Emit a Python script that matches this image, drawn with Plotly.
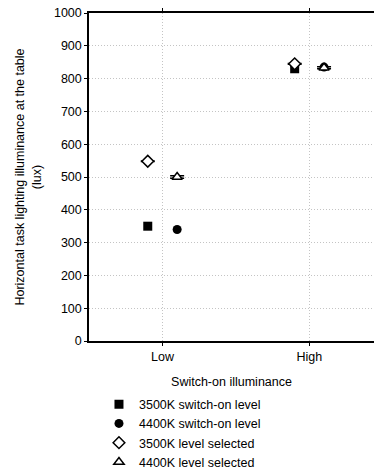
import plotly.graph_objects as go

categories = ["Low", "High"]
cat_pos = [0, 1]
offset = 0.1

sw_3500 = [350, 830]
sw_4400 = [340, 835]
sel_3500 = [548, 845]
sel_3500_err = [1, 1]
sel_4400 = [500, 833]
sel_4400_err = [4, 3]

y_ticks = list(range(0, 1001, 100))

xl = [p - offset for p in cat_pos]
xr = [p + offset for p in cat_pos]

fig = go.Figure()
fig.add_trace(go.Scatter(x=xl, y=sw_3500, mode="markers", name="3500K switch-on level",
                         marker=dict(symbol="square", size=9, color="black")))
fig.add_trace(go.Scatter(x=xr, y=sw_4400, mode="markers", name="4400K switch-on level",
                         marker=dict(symbol="circle", size=9, color="black")))
fig.add_trace(go.Scatter(x=xl, y=sel_3500, mode="markers", name="3500K level selected",
                         error_y=dict(type="data", array=sel_3500_err, color="black", thickness=1.5, width=7),
                         marker=dict(symbol="diamond", size=9, color="white", line=dict(color="black", width=1.5))))
fig.add_trace(go.Scatter(x=xr, y=sel_4400, mode="markers", name="4400K level selected",
                         error_y=dict(type="data", array=sel_4400_err, color="black", thickness=1.5, width=7),
                         marker=dict(symbol="triangle-up", size=9, color="white", line=dict(color="black", width=1.5))))

fig.update_layout(
    width=374, height=472,
    margin=dict(l=89, r=0, t=13, b=131, autoexpand=False),
    paper_bgcolor="white", plot_bgcolor="white",
    font=dict(family="Liberation Sans, Arial, sans-serif", size=12, color="black"),
    showlegend=True,
    legend=dict(orientation="v", x=0.035, xanchor="left", y=-0.148, yanchor="top",
                font=dict(size=12.5), tracegroupgap=0, itemwidth=30, bgcolor="rgba(0,0,0,0)"),
    xaxis=dict(range=[-0.5, 1.44], tickmode="array", tickvals=cat_pos, ticktext=categories,
               showgrid=True, gridcolor="#c4c4c4", griddash="1px,2px", gridwidth=1,
               showline=True, linecolor="black", linewidth=1.5, mirror="ticks",
               ticks="outside", ticklen=3, tickcolor="black", zeroline=False, automargin=False,
               title=dict(text="Switch-on illuminance", standoff=14, font=dict(size=12.5)),
               tickfont=dict(size=12.5)),
    yaxis=dict(range=[0, 1000], tickmode="array", tickvals=y_ticks,
               showgrid=True, gridcolor="#c4c4c4", griddash="1px,2px", gridwidth=1,
               showline=True, linecolor="black", linewidth=1.5,
               ticks="outside", ticklen=3, tickcolor="black", zeroline=False, automargin=False,
               title=dict(text="Horizontal task lighting illuminance at the table<br>(lux)", standoff=10,
                          font=dict(size=12.5)),
               tickfont=dict(size=12.5)),
)

fig.write_html("out.html", config={"displayModeBar": False},
               post_script="document.body.style.margin='0';")
